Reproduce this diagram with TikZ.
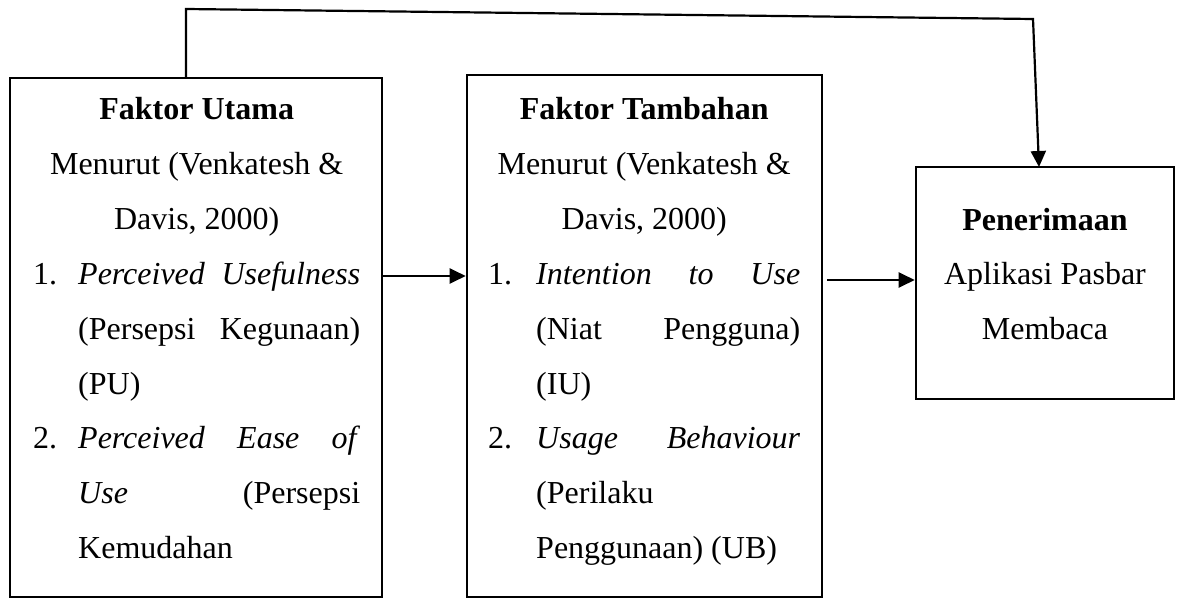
\documentclass[tikz,border=0pt]{standalone}
\usepackage{fontspec}
\setmainfont{Liberation Serif}
\usetikzlibrary{arrows.meta}
\newlength\itemind
\newcommand\Lc[1]{\hbox to \linewidth{\hfil #1\hfil}}
\newcommand\Ln[2]{\hbox to \linewidth{\hbox to \itemind{#1\hfil}#2\hfil}}
\newcommand\Lx[1]{\hbox to \linewidth{\hskip\itemind #1\hfil}}
\tikzset{
  box/.style={draw, line width=2.6pt, inner sep=0pt, fill=none},
  txt/.style={inner sep=0pt, font=\fontsize{32pt}{54.8pt}\selectfont},
  conn/.style={line width=2.2pt, line join=miter, -{Triangle[length=16pt,width=15pt]}}
}
\begin{document}
\begin{tikzpicture}[x=1pt,y=-1pt]
\useasboundingbox (0,0) rectangle (1182,599);
% boxes
\node[box, minimum width=372pt, minimum height=519pt] (b1) at (196,337.5) {};
\node[box, minimum width=355pt, minimum height=522pt] (b2) at (644.5,336) {};
\node[box, minimum width=258pt, minimum height=232pt] (b3) at (1045,283) {};
% texts
\node[txt, anchor=base west] (t1) at (33,120) {\parbox[t]{327pt}{\setlength\itemind{45pt}%
\Lc{\textbf{Faktor Utama}}
\Lc{Menurut (Venkatesh \&}
\Lc{Davis, 2000)}
\Ln{1.}{\textit{Perceived}\hfill\textit{Usefulness}}
\Lx{(Persepsi\hfill Kegunaan)}
\Lx{(PU)}
\Ln{2.}{\textit{Perceived}\hfill\textit{Ease}\hfill\textit{of}}
\Lx{\textit{Use}\hfill(Persepsi}
\Lx{Kemudahan}}};
\node[txt, anchor=base west] (t2) at (488,120) {\parbox[t]{312pt}{\setlength\itemind{48pt}%
\Lc{\textbf{Faktor Tambahan}}
\Lc{Menurut (Venkatesh \&}
\Lc{Davis, 2000)}
\Ln{1.}{\textit{Intention}\hfill\textit{to}\hfill\textit{Use}}
\Lx{(Niat\hfill Pengguna)}
\Lx{(IU)}
\Ln{2.}{\textit{Usage}\hfill\textit{Behaviour}}
\Lx{(Perilaku}
\Lx{Penggunaan) (UB)}}};
\node[txt, anchor=base] (t3) at (1045,230) {\parbox[t]{240pt}{%
\Lc{\textbf{Penerimaan}}
\Lc{Aplikasi Pasbar}
\Lc{Membaca}}};
% connectors
\coordinate (s) at (186,78);
\coordinate (c1) at (186,9);
\coordinate (c2) at (1033,19);
\coordinate (e) at (1039,167);
\draw[conn] (s) -- (c1) -- (c2) -- (e);
\coordinate (a1s) at (383,276);
\coordinate (a1e) at (b2.west |- a1s);
\draw[conn] (a1s) -- (a1e);
\coordinate (a2s) at (827,280);
\coordinate (a2e) at (b3.west |- a2s);
\draw[conn] (a2s) -- (a2e);
\end{tikzpicture}
\end{document}
